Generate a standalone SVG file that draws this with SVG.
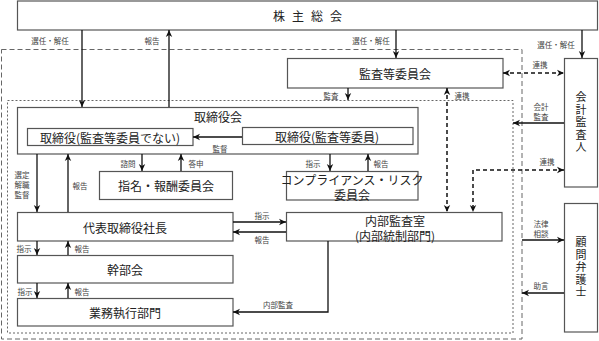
<svg xmlns="http://www.w3.org/2000/svg" width="599" height="341" viewBox="0 0 599 341">
<defs>
<marker id="ah" markerUnits="userSpaceOnUse" markerWidth="8" markerHeight="8" viewBox="0 0 8 8" refX="7.5" refY="4" orient="auto-start-reverse">
<path d="M0.5,0.8 L7.5,4 L0.5,7.2 L2.5,4 Z" fill="#111"/>
</marker>
<style>
.box{fill:#fff;stroke:#555;stroke-width:1.2}
.t{font-family:"Noto Sans CJK JP","Noto Sans",sans-serif;fill:#222;text-anchor:middle;dominant-baseline:central}
.big{font-size:12px}
.mid{font-size:12px}
.vt{font-family:"Noto Sans CJK JP","Noto Sans",sans-serif;fill:#222;text-anchor:middle;font-size:11px;writing-mode:vertical-rl;letter-spacing:1.5px}
.lab{font-size:7.5px;fill:#444}
.ln{fill:none;stroke:#111;stroke-width:1.3}
.dl{fill:none;stroke:#111;stroke-width:1.5;stroke-dasharray:4 3}
</style>
</defs>
<rect width="599" height="341" fill="#fff"/>
<g id="regions">
<rect x="1.5" y="49.5" width="520.5" height="289.5" fill="none" stroke="#666" stroke-width="1" stroke-dasharray="5 3"/>
<rect x="7.5" y="100.5" width="505.5" height="232.5" fill="none" stroke="#666" stroke-width="1" stroke-dasharray="2 2"/>
</g>
<g id="n-kabunushi"><rect class="box" x="17.5" y="1" width="580" height="29"/><text class="t mid" x="311" y="15.5" letter-spacing="7">株主総会</text></g>
<g id="n-kansatou"><rect class="box" x="287.5" y="58.5" width="215.5" height="29.5"/><text class="t big" x="395" y="73">監査等委員会</text></g>
<g id="n-kaikei"><rect class="box" x="564.5" y="58.5" width="33" height="128.5"/>
<text class="vt" x="581" y="123">会計監査人</text></g>
<g id="n-komon"><rect class="box" x="564.5" y="203.5" width="33" height="128.5"/>
<text class="vt" x="581" y="268">顧問弁護士</text></g>
<g id="n-torishimariyakukai"><rect class="box" x="17.5" y="107.5" width="400.5" height="46.5"/><text class="t big" x="218" y="116">取締役会</text></g>
<g id="n-tori-nai"><rect class="box" x="27.5" y="128.5" width="165.5" height="17"/><text class="t big" x="110" y="137">取締役(監査等委員でない)</text></g>
<g id="n-tori-kansa"><rect class="box" x="242.5" y="127.5" width="170.5" height="17"/><text class="t big" x="327" y="136">取締役(監査等委員)</text></g>
<g id="n-shimei"><rect class="box" x="99.5" y="171.5" width="133" height="28"/><text class="t big" x="166" y="185.5">指名・報酬委員会</text></g>
<g id="n-compliance"><rect class="box" x="286.5" y="171.5" width="131.5" height="28.5"/><text class="t big"><tspan x="352" y="179">コンプライアンス・リスク</tspan><tspan x="352" y="193.5">委員会</tspan></text></g>
<g id="n-daihyo"><rect class="box" x="17.5" y="212.5" width="215.5" height="28.5"/><text class="t big" x="125" y="227">代表取締役社長</text></g>
<g id="n-kanbu"><rect class="box" x="17.5" y="255.5" width="215.5" height="27.5"/><text class="t big" x="125" y="269.5">幹部会</text></g>
<g id="n-gyomu"><rect class="box" x="17.5" y="298.5" width="215.5" height="27.5"/><text class="t big" x="125" y="312.5">業務執行部門</text></g>
<g id="n-naibu"><rect class="box" x="286.5" y="212.5" width="215.5" height="28.5"/><text class="t big"><tspan x="395" y="220">内部監査室</tspan><tspan x="395" y="234.5">(内部統制部門)</tspan></text></g>
<g id="connectors">
<path class="ln" d="M82,30 V107" marker-end="url(#ah)"/>
<path class="ln" d="M169,107 V30" marker-end="url(#ah)"/>
<path class="ln" d="M396,30 V58" marker-end="url(#ah)"/>
<path class="ln" d="M582,30 V58" marker-end="url(#ah)"/>
<path class="dl" d="M503,73 H564" marker-start="url(#ah)" marker-end="url(#ah)"/>
<path class="ln" d="M348,88 V100" marker-end="url(#ah)"/>
<path class="dl" d="M447,88 V212" marker-start="url(#ah)" marker-end="url(#ah)"/>
<path class="dl" d="M564,170 H473 V212" marker-start="url(#ah)" marker-end="url(#ah)"/>
<path class="ln" d="M564,123 H513" marker-end="url(#ah)"/>
<path class="ln" d="M522,240 H564" marker-end="url(#ah)"/>
<path class="ln" d="M564,293 H522" marker-end="url(#ah)"/>
<path class="ln" d="M242,137 H193" marker-end="url(#ah)"/>
<path class="ln" d="M142,154 V171" marker-end="url(#ah)"/>
<path class="ln" d="M181,171 V154" marker-end="url(#ah)"/>
<path class="ln" d="M330,154 V171" marker-end="url(#ah)"/>
<path class="ln" d="M368,171 V154" marker-end="url(#ah)"/>
<path class="ln" d="M37,154 V212" marker-end="url(#ah)"/>
<path class="ln" d="M68,212 V154" marker-end="url(#ah)"/>
<path class="ln" d="M233,222 H286" marker-end="url(#ah)"/>
<path class="ln" d="M286,232 H233" marker-end="url(#ah)"/>
<path class="ln" d="M37,241 V255" marker-end="url(#ah)"/>
<path class="ln" d="M68,255 V241" marker-end="url(#ah)"/>
<path class="ln" d="M37,283 V298" marker-end="url(#ah)"/>
<path class="ln" d="M68,298 V283" marker-end="url(#ah)"/>
<path class="ln" d="M328,241 V312 H233" marker-end="url(#ah)"/>
</g>
<g id="labels">
<text class="t lab" x="50" y="40">選任・解任</text>
<text class="t lab" x="152" y="40">報告</text>
<text class="t lab" x="371" y="40">選任・解任</text>
<text class="t lab" x="556" y="44">選任・解任</text>
<text class="t lab" x="540" y="64">連携</text>
<text class="t lab" x="331" y="95">監査</text>
<text class="t lab" x="462" y="95">連携</text>
<text class="t lab" x="541" y="106">会計</text>
<text class="t lab" x="541" y="116">監査</text>
<text class="t lab" x="220" y="148">監督</text>
<text class="t lab" x="128" y="163">諮問</text>
<text class="t lab" x="196" y="163">答申</text>
<text class="t lab" x="313" y="163">指示</text>
<text class="t lab" x="381" y="163">報告</text>
<text class="t lab" x="547" y="161">連携</text>
<text class="t lab" x="22" y="174">選定</text>
<text class="t lab" x="22" y="184">解職</text>
<text class="t lab" x="22" y="194">監督</text>
<text class="t lab" x="80" y="185">報告</text>
<text class="t lab" x="262" y="215">指示</text>
<text class="t lab" x="262" y="239">報告</text>
<text class="t lab" x="541" y="223">法律</text>
<text class="t lab" x="541" y="233">相談</text>
<text class="t lab" x="24" y="248">指示</text>
<text class="t lab" x="82" y="248">報告</text>
<text class="t lab" x="25" y="291">指示</text>
<text class="t lab" x="82" y="291">報告</text>
<text class="t lab" x="541" y="285">助言</text>
<text class="t lab" x="278" y="304">内部監査</text>
</g>
</svg>
